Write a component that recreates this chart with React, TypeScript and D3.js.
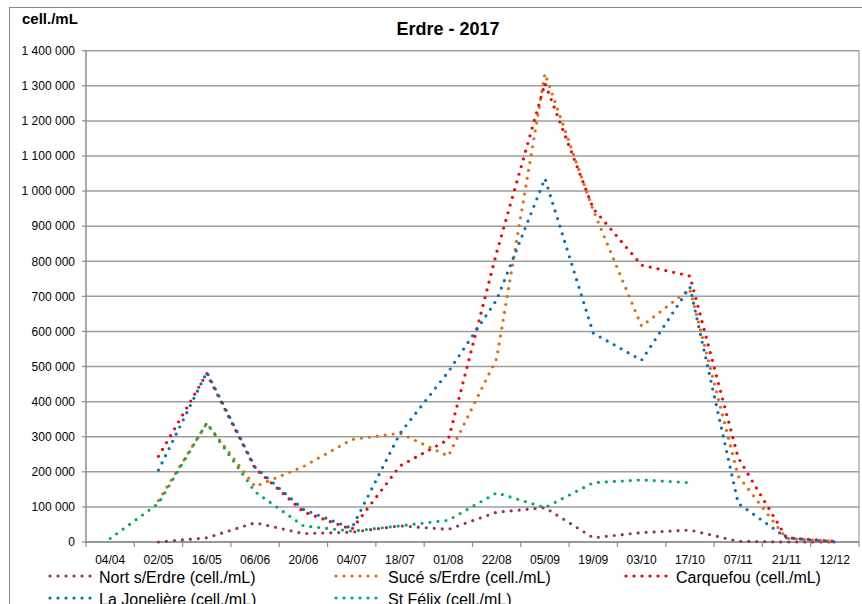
import React from "react";
import * as d3 from "d3";

const categories = ["04/04","02/05","16/05","06/06","20/06","04/07","18/07","01/08","22/08","05/09","19/09","03/10","17/10","07/11","21/11","12/12"];
const yTicks = [0,100000,200000,300000,400000,500000,600000,700000,800000,900000,1000000,1100000,1200000,1300000,1400000];

const nortValues: (number|null)[] = [null,0,12000,55000,24000,28000,46000,36000,85000,98000,12000,27000,34000,2000,0,0];
const suceValues: (number|null)[] = [null,118000,338000,158000,215000,292000,310000,245000,523000,1335000,945000,615000,721000,188000,10000,2000];
const carquefouValues: (number|null)[] = [null,244000,480000,210000,86000,36000,217000,292000,825000,1307000,950000,789000,758000,240000,12000,2000];
const joneliereValues: (number|null)[] = [null,205000,484000,213000,93000,39000,310000,485000,690000,1036000,595000,518000,727000,110000,12000,0];
const felixValues: (number|null)[] = [10000,110000,339000,143000,46000,31000,46000,62000,140000,98000,169000,177000,169000,null,null,null];

const seriesNames = ["Nort s/Erdre (cell./mL)","Sucé s/Erdre (cell./mL)","Carquefou (cell./mL)","La Jonelière (cell./mL)","St Félix (cell./mL)"];
const seriesColors = ["#953163","#E46C0A","#FF0000","#0070C0","#00B050"];
const seriesValues = [nortValues, suceValues, carquefouValues, joneliereValues, felixValues];

const W = 862, H = 604;
const left = 86, right = 859, top = 50.7, bottom = 542;
const FONT = "'Liberation Sans', Arial, sans-serif";

export default function App() {
  const x = d3.scaleBand<string>().domain(categories).range([left, right]).padding(0);
  const y = d3.scaleLinear().domain([0, 1400000]).range([bottom, top]);
  const cx = (c: string) => (x(c) as number) + x.bandwidth() / 2;
  const fmt = (v: number) => d3.format(",")(v).replace(/,/g, " ");
  const line = d3.line<number|null>()
    .defined((d) => d !== null)
    .x((_, i) => cx(categories[i]))
    .y((d) => y(d as number))
    .curve(d3.curveLinear);

  const legendPos = [
    { lx: 50, tx: 99, ly: 576, ty: 583 },
    { lx: 336, tx: 388, ly: 576, ty: 583 },
    { lx: 626, tx: 676, ly: 576, ty: 583 },
    { lx: 50, tx: 99, ly: 598, ty: 605 },
    { lx: 336, tx: 388, ly: 598, ty: 605 },
  ];

  return (
    <svg width={W} height={H} style={{ position: "absolute", left: 0, top: 0, background: "#fff" }} fontFamily={FONT}>
      <rect x={0} y={0} width={W} height={H} fill="#fff" />
      {/* outer chart border */}
      <line x1={9} y1={7.5} x2={W} y2={7.5} stroke="#8a8a8a" strokeWidth={1} />
      <line x1={9.5} y1={7} x2={9.5} y2={H} stroke="#8a8a8a" strokeWidth={1} />

      {/* gridlines */}
      {yTicks.map((t) => (
        <line key={"g" + t} x1={left} x2={right} y1={y(t)} y2={y(t)} stroke="#9e9e9e" strokeWidth={1.5} />
      ))}
      {/* plot right border */}
      <line x1={right} x2={right} y1={top} y2={bottom} stroke="#9e9e9e" strokeWidth={1.2} />
      {/* y axis */}
      <line x1={left} x2={left} y1={top} y2={bottom} stroke="#8c8c8c" strokeWidth={1.5} />
      {yTicks.map((t) => (
        <g key={"yt" + t}>
          <line x1={left - 4} x2={left} y1={y(t)} y2={y(t)} stroke="#8c8c8c" strokeWidth={1.2} />
          <text x={75} y={y(t) + 4.3} textAnchor="end" fontSize={12} fill="#000">{fmt(t)}</text>
        </g>
      ))}
      {/* x axis */}
      <line x1={left} x2={right} y1={bottom} y2={bottom} stroke="#8c8c8c" strokeWidth={1.5} />
      {categories.map((c) => (
        <line key={"xt" + c} x1={x(c) as number} x2={x(c) as number} y1={bottom} y2={bottom + 5} stroke="#8c8c8c" strokeWidth={1.2} />
      ))}
      <line x1={right} x2={right} y1={bottom} y2={bottom + 5} stroke="#8c8c8c" strokeWidth={1.2} />
      {categories.map((c) => (
        <text key={"xl" + c} x={cx(c)} y={564} textAnchor="middle" fontSize={12} fill="#000">{c}</text>
      ))}

      {/* series */}
      {seriesValues.map((vals, i) => (
        <path key={"s" + i} d={line(vals) || ""} fill="none" stroke={seriesColors[i]} strokeWidth={3.2}
          strokeDasharray="0 8" strokeLinecap="round" strokeLinejoin="round" />
      ))}

      {/* titles */}
      <text x={448} y={35} textAnchor="middle" fontSize={18} fontWeight="bold" fill="#000">Erdre - 2017</text>
      <text x={22} y={24} fontSize={15} fontWeight="bold" fill="#000">cell./mL</text>

      {/* legend */}
      {seriesNames.map((n, i) => {
        const p = legendPos[i];
        return (
          <g key={"lg" + i}>
            <line x1={p.lx} x2={p.lx + 42} y1={p.ly} y2={p.ly} stroke={seriesColors[i]} strokeWidth={3.2}
              strokeDasharray="0 8" strokeLinecap="round" />
            <text x={p.tx} y={p.ty} fontSize={16} fill="#000">{n}</text>
          </g>
        );
      })}
    </svg>
  );
}
